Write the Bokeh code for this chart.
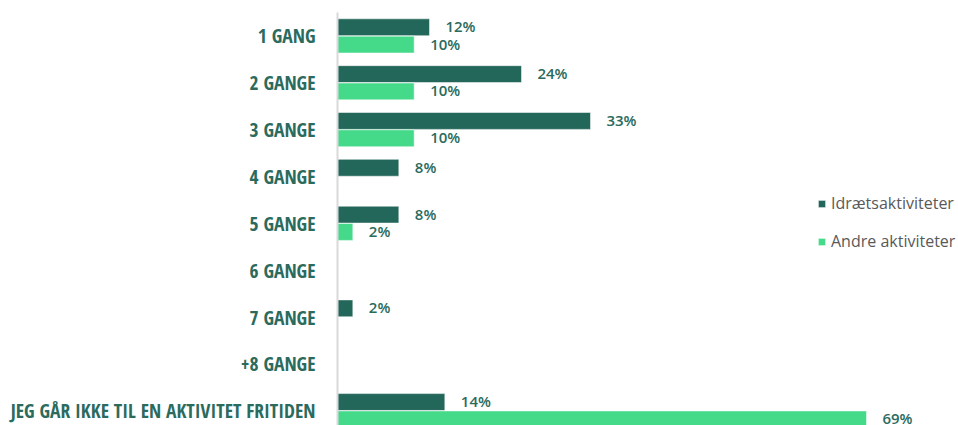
from bokeh.plotting import figure
from bokeh.models import Range1d, FixedTicker, ColumnDataSource, Legend, LegendItem
from bokeh.core.properties import value
from bokeh.embed import file_html
from bokeh.resources import INLINE

categories = ["1 GANG", "2 GANGE", "3 GANGE", "4 GANGE", "5 GANGE", "6 GANGE",
              "7 GANGE", "+8 GANGE", "JEG GÅR IKKE TIL EN AKTIVITET FRITIDEN"]
idraet = [12, 24, 33, 8, 8, 0, 2, 0, 14]
andre = [10, 10, 10, 0, 2, 0, 0, 0, 69]
series_names = ["Idrætsaktiviteter", "Andre aktiviteter"]

DARK = "#23665A"
LIGHT = "#44DA8A"
TXT = "#2B6B5D"

idx = list(range(len(categories)))

p = figure(width=958, height=425, output_backend="svg", toolbar_location=None,
           x_range=Range1d(0, 81.0), y_range=Range1d(8.316, -0.5),
           min_border_left=337, min_border_right=0, min_border_top=12, min_border_bottom=0)
p.outline_line_color = None
p.xgrid.visible = False
p.ygrid.visible = False
p.xaxis.visible = False

ya = p.yaxis[0]
ya.ticker = FixedTicker(ticks=idx)
ya.major_label_overrides = {i: c for i, c in zip(idx, categories)}
ya.major_tick_line_color = None
ya.minor_tick_line_color = None
ya.axis_line_color = "#D9D9D9"
ya.axis_line_width = 2
ya.major_label_standoff = 16
ya.major_label_text_font = "Open Sans Condensed"
ya.major_label_text_font_style = "bold"
ya.major_label_text_font_size = "19.5px"
ya.major_label_text_color = TXT

off = 0.185
h = 0.36
src1 = ColumnDataSource(dict(y=[i - off for i in idx], v=idraet))
src2 = ColumnDataSource(dict(y=[i + off for i in idx], v=andre))
r1 = p.hbar(y="y", right="v", left=0, height=h, source=src1, fill_color=DARK,
            line_color="white", line_width=1, line_alpha=0.5)
r2 = p.hbar(y="y", right="v", left=0, height=h, source=src2, fill_color=LIGHT,
            line_color="white", line_width=1, line_alpha=0.5)

def labels(vals, dy):
    ys, xs, ts = [], [], []
    for i, v in zip(idx, vals):
        if v > 0:
            ys.append(i + dy)
            xs.append(v)
            ts.append(f"{v}%")
    return ColumnDataSource(dict(x=xs, y=ys, t=ts))

for s in (labels(idraet, -off), labels(andre, off)):
    p.text(x="x", y="y", text="t", source=s, x_offset=16, y_offset=-1, text_baseline="middle",
           text_align="left", text_font=value("Open Sans SemiBold"),
           text_font_size="15px", text_color=TXT)

legend = Legend(items=[LegendItem(label=series_names[0], renderers=[r1]),
                       LegendItem(label=series_names[1], renderers=[r2])],
                location=(480, 173), orientation="vertical",
                padding=0, margin=0, spacing=16,
                glyph_width=9, glyph_height=9, label_standoff=5, label_height=9,
                label_text_font="Open Sans", label_text_font_size="16px",
                label_text_color="#595959",
                border_line_color=None, background_fill_alpha=0)
p.add_layout(legend)

open("out.html", "w").write(file_html(p, INLINE))
